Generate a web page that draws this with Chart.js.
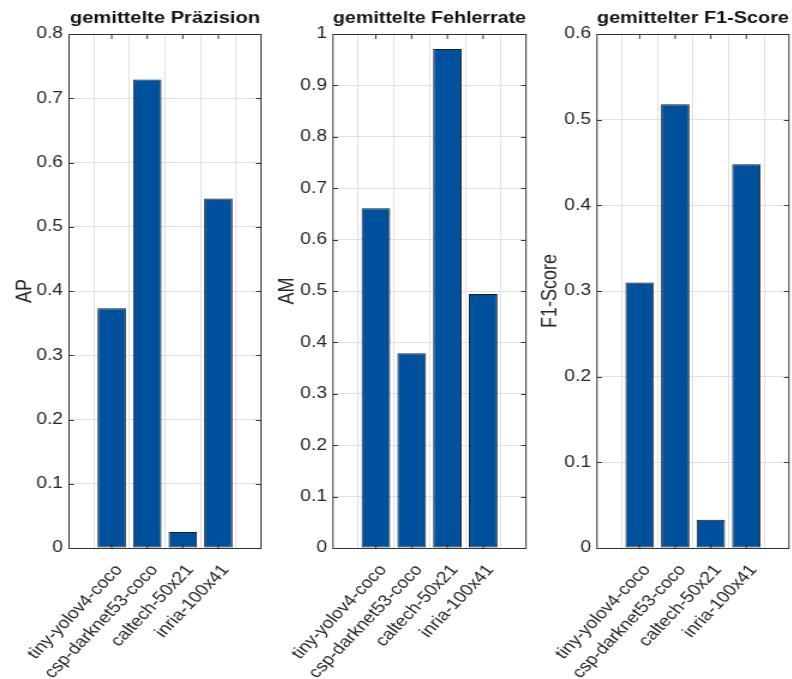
<!DOCTYPE html>
<html>
<head>
<meta charset="utf-8">
<script src="https://cdn.jsdelivr.net/npm/chart.js@4/dist/chart.umd.min.js"></script>
<style>
  html, body { margin: 0; padding: 0; background: #fff; }
  #wrap { position: relative; width: 792px; height: 679px; overflow: hidden; background: #fff; }
  .panel { position: absolute; top: 0; transform-origin: 0 0; }
  .panel canvas { display: block; }
</style>
</head>
<body>
<div id="wrap">
  <div class="panel" id="boxAP" style="left:0px"><canvas id="pAP" width="222" height="679"></canvas></div>
  <div class="panel" id="boxAM" style="left:266px"><canvas id="pAM" width="220" height="679"></canvas></div>
  <div class="panel" id="boxF1" style="left:530px"><canvas id="pF1" width="218" height="679"></canvas></div>
</div>
<script>
// Detector variants compared in every panel
const categories = ['tiny-yolov4-coco', 'csp-darknet53-coco', 'caltech-50x21', 'inria-100x41'];

// Averaged metrics per detector
const precisionAP = [0.373, 0.729, 0.025, 0.544];
const missRateAM  = [0.661, 0.379, 0.971, 0.494];
const f1Score     = [0.310, 0.518, 0.033, 0.448];

// Panel titles, axis titles and y ranges
const panelTitles = ['gemittelte Präzision', 'gemittelte Fehlerrate', 'gemittelter F1-Score'];
const axisTitles  = ['AP', 'AM', 'F1-Score'];
const yMaxima     = [0.8, 1, 0.6];
const yStep       = 0.1;

// The figure is drawn narrow and widened by this factor
const STRETCH = 1.2;

const FONT = '"Liberation Sans", Arial, Helvetica, sans-serif';
const BAR_FILL = '#00519d';
const BAR_EDGE = '#1f1f1f';
const GRID = '#e0e0e0';
const AXIS = '#333333';
const TEXT = '#262626';

// Full axes box with short inward tick marks on all four sides
const axesBox = {
  id: 'axesBox',
  afterDraw(chart) {
    const { ctx, chartArea: a, scales } = chart;
    const tl = 5;
    ctx.save();
    ctx.strokeStyle = AXIS;
    ctx.lineWidth = 1;
    ctx.beginPath();
    scales.x.ticks.forEach(t => {
      const px = scales.x.getPixelForValue(t.value);
      ctx.moveTo(px, a.top); ctx.lineTo(px, a.top + tl);
      ctx.moveTo(px, a.bottom); ctx.lineTo(px, a.bottom - tl);
    });
    scales.y.ticks.forEach(t => {
      const py = Math.round(scales.y.getPixelForValue(t.value)) + 0.5;
      ctx.moveTo(a.left, py); ctx.lineTo(a.left + tl / STRETCH, py);
      ctx.moveTo(a.right, py); ctx.lineTo(a.right - tl / STRETCH, py);
    });
    ctx.stroke();
    ctx.strokeRect(a.left, Math.round(a.top) + 0.5,
                   a.right - a.left, Math.round(a.bottom - a.top));
    ctx.restore();
  }
};

function makePanel(id, values, title, yTitle, yMax, yAxisWidth, titlePad, rightPad) {
  document.getElementById(id).parentNode.style.transform = 'scaleX(' + STRETCH + ')';
  const points = categories.map((c, i) => ({ x: i + 1, y: values[i] }));
  return new Chart(document.getElementById(id), {
    type: 'bar',
    data: {
      datasets: [{
        data: points,
        backgroundColor: BAR_FILL,
        borderColor: BAR_EDGE,
        borderWidth: 1,
        borderSkipped: false,
        barPercentage: 0.8,
        categoryPercentage: 1.0
      }]
    },
    options: {
      responsive: false,
      animation: false,
      events: [],
      layout: { padding: { left: 0, right: rightPad, top: 0, bottom: 0 } },
      plugins: {
        legend: { display: false },
        tooltip: { enabled: false },
        title: {
          display: true,
          text: title,
          fullSize: false,
          color: '#111',
          font: { family: FONT, size: 16.8, weight: 'bold', lineHeight: 1 },
          padding: { top: 10, bottom: 7.2 }
        }
      },
      scales: {
        x: {
          type: 'linear',
          min: -0.2,
          max: categories.length + 1.2,
          offset: false,
          afterBuildTicks(scale) {
            scale.ticks = categories.map((c, i) => ({ value: i + 1 }));
          },
          afterFit(scale) {
            scale.height = 131;
            scale.paddingLeft = 0;
            scale.paddingRight = 0;
          },
          grid: { color: GRID, drawTicks: false },
          border: { display: false },
          ticks: {
            autoSkip: false,
            minRotation: 51,
            maxRotation: 51,
            padding: 13,
            labelOffset: 6,
            color: TEXT,
            font: { family: FONT, size: 16 },
            callback: v => categories[v - 1]
          }
        },
        y: {
          type: 'linear',
          min: 0,
          max: yMax,
          afterFit(scale) { scale.width = yAxisWidth; },
          grid: { color: GRID, drawTicks: false },
          border: { display: false },
          ticks: {
            stepSize: yStep,
            padding: 5,
            color: TEXT,
            font: { family: FONT, size: 16 },
            callback: v => String(Number(v.toFixed(2)))
          },
          title: {
            display: true,
            text: yTitle,
            color: TEXT,
            font: { family: FONT, size: 18, lineHeight: 1.2 },
            padding: { top: titlePad, bottom: 0 }
          }
        }
      }
    },
    plugins: [axesBox]
  });
}

makePanel('pAP', precisionAP, panelTitles[0], axisTitles[0], yMaxima[0], 57.5, 10, 4.5);
makePanel('pAM', missRateAM,  panelTitles[1], axisTitles[1], yMaxima[1], 55.8, 7, 3.3);
makePanel('pF1', f1Score,     panelTitles[2], axisTitles[2], yMaxima[2], 55.8, 6, 2.2);
</script>
</body>
</html>
